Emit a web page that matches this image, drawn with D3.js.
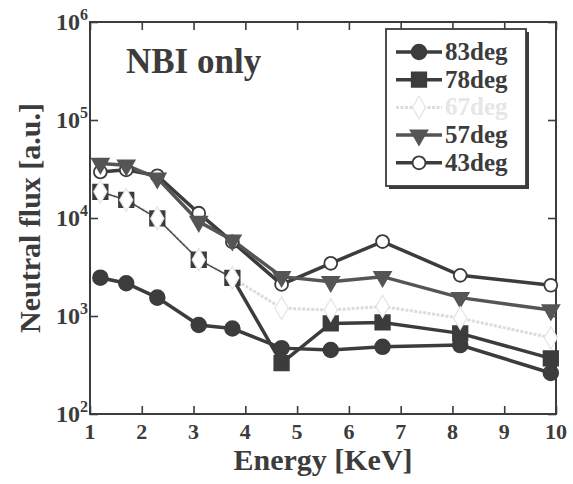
<!DOCTYPE html>
<html>
<head>
<meta charset="utf-8">
<script src="https://cdn.jsdelivr.net/npm/d3@7"></script>
<style>
  body { margin: 0; background: #fff; }
  svg text { font-family: "Liberation Serif", Tinos, "Times New Roman", Times, serif; font-weight: 700; }
</style>
</head>
<body>
<div id="chart"></div>
<script>
// datos ////////////////////////////////////////////////
const energy   = [1.2, 1.7, 2.3, 3.1, 3.75, 4.7, 5.65, 6.65, 8.15, 9.9];
const deg83    = [2460, 2160, 1540, 810, 745, 470, 450, 485, 505, 262];
const deg78    = [18500, 15300, 9900, 3750, 2450, 330, 840, 860, 665, 370];
const deg67    = [18500, 15300, 9900, 3750, 2450, 1200, 1150, 1250, 950, 600];
const deg57    = [36000, 34500, 25500, 9200, 5950, 2520, 2240, 2520, 1540, 1150];
const deg43    = [29500, 31000, 27000, 11200, 5700, 2100, 3450, 5750, 2600, 2060];
const seriesNames = ['83deg', '78deg', '67deg', '57deg', '43deg'];
const xTicks = [1, 2, 3, 4, 5, 6, 7, 8, 9, 10];
const yTicks = [2, 3, 4, 5, 6];

const width = 573, height = 484;
const margin = { top: 22, right: 17, bottom: 70, left: 90 };

const svg = d3.select('#chart').append('svg')
  .attr('width', width)
  .attr('height', height)
  .attr('viewBox', [0, 0, width, height])
  .attr('font-family', '"Liberation Serif", Tinos, "Times New Roman", serif')
  .attr('font-weight', 'bold');

const x = d3.scaleLinear().domain([1, 10]).range([margin.left, width - margin.right]);
const y = d3.scaleLog().domain([100, 1e6]).range([height - margin.bottom, margin.top]);

const dark = '#3c3c3c';

// ejes ///////////////////////////////////////////////////////////////////
const axes = svg.append('g').attr('id', 'axes');
const tick = 8;

axes.append('g')
  .attr('transform', `translate(0,${y(100)})`)
  .call(d3.axisBottom(x).tickValues(xTicks).tickSize(-tick).tickFormat(''))
  .call(g => g.select('.domain').remove());
axes.append('g')
  .attr('transform', `translate(0,${y(1e6)})`)
  .call(d3.axisTop(x).tickValues(xTicks).tickSize(-tick).tickFormat(''))
  .call(g => g.select('.domain').remove());
axes.append('g')
  .attr('transform', `translate(${x(1)},0)`)
  .call(d3.axisLeft(y).tickValues(yTicks.map(d => 10 ** d)).tickSize(-tick).tickFormat(''))
  .call(g => g.select('.domain').remove());
axes.append('g')
  .attr('transform', `translate(${x(10)},0)`)
  .call(d3.axisRight(y).tickValues(yTicks.map(d => 10 ** d)).tickSize(-tick).tickFormat(''))
  .call(g => g.select('.domain').remove());
axes.selectAll('.tick line').attr('stroke', dark).attr('stroke-width', 1.6);

axes.append('rect')
  .attr('x', x(1)).attr('y', y(1e6))
  .attr('width', x(10) - x(1)).attr('height', y(100) - y(1e6))
  .attr('fill', 'none').attr('stroke', dark).attr('stroke-width', 2);

// etiquetas de ticks
svg.append('g').selectAll('text')
  .data(xTicks)
  .join('text')
  .attr('x', d => x(d))
  .attr('y', y(100) + 25)
  .attr('text-anchor', 'middle')
  .attr('font-size', 22)
  .attr('fill', dark)
  .text(d => d);

const yl = svg.append('g').selectAll('text')
  .data(yTicks)
  .join('text')
  .attr('x', x(1) - 2)
  .attr('y', d => y(10 ** d) + 8)
  .attr('text-anchor', 'end')
  .attr('font-size', 24)
  .attr('fill', dark);
yl.append('tspan').text('10');
yl.append('tspan').attr('dy', -10).attr('font-size', 16).text(d => d);

// títulos
svg.append('text')
  .attr('x', (x(1) + x(10)) / 2)
  .attr('y', 470)
  .attr('text-anchor', 'middle')
  .attr('font-size', 30)
  .attr('fill', dark)
  .text('Energy [KeV]');

svg.append('text')
  .attr('transform', `translate(40,${(y(100) + y(1e6)) / 2}) rotate(-90)`)
  .attr('text-anchor', 'middle')
  .attr('font-size', 30)
  .attr('fill', dark)
  .text('Neutral flux [a.u.]');

svg.append('text')
  .attr('x', 126)
  .attr('y', 73)
  .attr('font-size', 35)
  .attr('fill', dark)
  .text('NBI only');

// series /////////////////////////////////////////////////////////////////
const styles = {
  '83deg': { line: dark, width: 3.5, marker: 'circle', fill: dark, stroke: dark, size: 170 },
  '78deg': { line: dark, width: 3.5, marker: 'square', fill: dark, stroke: dark, size: 210 },
  '67deg': { line: '#dcdcdc', width: 3, marker: 'diamond', fill: '#fff', stroke: '#e4e4e4', size: 150 },
  '57deg': { line: '#555', width: 3.5, marker: 'triangle', fill: '#555', stroke: '#555', size: 120 },
  '43deg': { line: dark, width: 3.5, marker: 'circle', fill: '#fff', stroke: dark, size: 130 }
};
const symbols = {
  circle: d3.symbolCircle,
  square: d3.symbolSquare,
  diamond: d3.symbolDiamond,
  triangle: d3.symbolTriangle
};
function symbolPath(s) {
  return d3.symbol().type(symbols[s.marker]).size(s.size)();
}
function symbolRotate(s) {
  return s.marker === 'triangle' ? ' rotate(180)' : '';
}

const series = [
  { name: '43deg', values: deg43 },
  { name: '57deg', values: deg57 },
  { name: '67deg', values: deg67 },
  { name: '83deg', values: deg83 },
  { name: '78deg', values: deg78 }
];

const line = d3.line().x(d => x(d[0])).y(d => y(d[1]));
const plot = svg.append('g').attr('id', 'series');

// líneas primero (la de 67deg queda por debajo de la de 78deg)
series.forEach(s => {
  const st = styles[s.name];
  const pts = energy.map((e, i) => [e, s.values[i]]);
  if (s.name === '78deg') {
    // tramo fino donde coincide con 67deg
    plot.append('path').attr('d', line(pts.slice(0, 5)))
      .attr('fill', 'none').attr('stroke', st.line).attr('stroke-width', 1.3);
    plot.append('path').attr('d', line(pts.slice(4)))
      .attr('fill', 'none').attr('stroke', st.line).attr('stroke-width', st.width);
  } else {
    plot.append('path').attr('d', line(pts))
      .attr('fill', 'none').attr('stroke', st.line).attr('stroke-width', st.width)
      .attr('stroke-dasharray', s.name === '67deg' ? '3 1.5' : null);
  }
});

const markerOrder = ['43deg', '57deg', '83deg', '78deg', '67deg'];
markerOrder.forEach(name => {
  const s = series.find(d => d.name === name);
  const st = styles[name];
  plot.append('g').selectAll('path')
    .data(energy.map((e, i) => [e, s.values[i]]))
    .join('path')
    .attr('transform', d => `translate(${x(d[0])},${y(d[1])})${symbolRotate(st)}`)
    .attr('d', symbolPath(st))
    .attr('fill', st.fill)
    .attr('stroke', st.stroke)
    .attr('stroke-width', name === '67deg' ? 1.2 : 1.8);
});

// leyenda ////////////////////////////////////////////////////////////////
const legend = svg.append('g').attr('id', 'legend');
const lx = 386, ly = 29, lw = 140, lh = 157;
legend.append('rect')
  .attr('x', lx + 3).attr('y', ly + 3).attr('width', lw).attr('height', lh)
  .attr('fill', dark);
legend.append('rect')
  .attr('x', lx).attr('y', ly).attr('width', lw).attr('height', lh)
  .attr('fill', '#fff').attr('stroke', dark).attr('stroke-width', 1.8);

seriesNames.forEach((name, i) => {
  const st = styles[name];
  const cy = 52 + i * 27.7;
  legend.append('line')
    .attr('x1', 396).attr('x2', 442).attr('y1', cy).attr('y2', cy)
    .attr('stroke', st.line).attr('stroke-width', st.width)
    .attr('stroke-dasharray', name === '67deg' ? '3 1.5' : null);
  legend.append('path')
    .attr('transform', `translate(419,${cy})${symbolRotate(st)}`)
    .attr('d', symbolPath(st))
    .attr('fill', st.fill)
    .attr('stroke', st.stroke)
    .attr('stroke-width', name === '67deg' ? 1.2 : 1.8);
  legend.append('text')
    .attr('x', 445).attr('y', cy + 8)
    .attr('font-size', 25)
    .attr('fill', name === '67deg' ? '#e6e6e6' : dark)
    .text(name);
});
</script>
</body>
</html>
